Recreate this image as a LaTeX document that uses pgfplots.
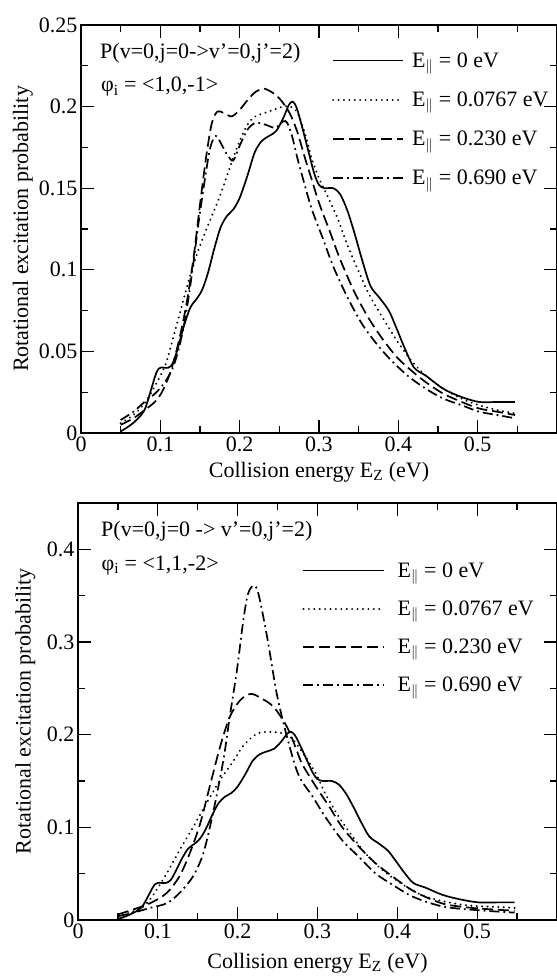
\documentclass[border=0pt]{standalone}
\usepackage{fontspec}
\setmainfont{Liberation Serif}
\usepackage{pgfplots}
\usepackage{pgfplotstable}
\pgfplotsset{compat=1.18}

\pgfplotstableread{
x y
0.050 0.001
0.060 0.004
0.070 0.008
0.080 0.014
0.088 0.026
0.095 0.037
0.100 0.040
0.110 0.040
0.116 0.043
0.122 0.052
0.130 0.066
0.138 0.077
0.147 0.083
0.153 0.088
0.160 0.098
0.168 0.113
0.176 0.126
0.184 0.133
0.192 0.137
0.200 0.144
0.210 0.158
0.219 0.172
0.228 0.179
0.237 0.182
0.246 0.185
0.255 0.193
0.262 0.201
0.267 0.203
0.272 0.199
0.279 0.187
0.287 0.172
0.294 0.159
0.300 0.152
0.307 0.150
0.318 0.150
0.327 0.146
0.336 0.136
0.345 0.122
0.355 0.105
0.365 0.090
0.376 0.083
0.388 0.075
0.397 0.065
0.408 0.052
0.420 0.040
0.435 0.035
0.457 0.027
0.480 0.022
0.502 0.019
0.525 0.019
0.547 0.019
}\solidcurve

\tikzset{
  cSolid/.style={black, line width=1.7bp},
  cDot/.style={black, line width=2.2bp, line cap=round, dash pattern=on 0.01bp off 5.4bp},
  cDash/.style={black, line width=1.7bp, dash pattern=on 11bp off 5bp},
  cDashDot/.style={black, line width=1.7bp, dash pattern=on 10bp off 4bp on 1.8bp off 4bp},
}

\pgfplotsset{
  myaxis/.style={
    scale only axis,
    anchor=south west,
    xmin=0, xmax=0.6,
    xtick={0,0.1,0.2,0.3,0.4,0.5},
    xticklabels={0,0.1,0.2,0.3,0.4,0.5},
    minor xtick={0.05,0.15,0.25,0.35,0.45,0.55},
    tick align=inside,
    major tick length=13bp,
    minor tick length=7bp,
    tick style={black, line width=1.3bp},
    axis line style={line width=1.8bp},
    /pgf/number format/assume math mode=true,
    font=\fontsize{22bp}{25bp}\selectfont,
    tick label style={font=\fontsize{22bp}{25bp}\selectfont},
    label style={font=\fontsize{22bp}{25bp}\selectfont},
    xlabel={Collision energy E\textsubscript{Z} (eV)},
    ylabel={Rotational excitation probability},
    legend cell align=left,
    clip=false,
  }
}

\begin{document}
\begin{tikzpicture}[font=\fontsize{22bp}{25bp}\selectfont]
\path[use as bounding box] (0bp,0bp) rectangle (557bp,979bp);

% ---------- top panel ----------
\begin{axis}[myaxis,
  at={(81bp,546bp)}, width=476bp, height=408bp,
  ymin=0, ymax=0.25,
  ytick={0,0.05,0.1,0.15,0.2,0.25},
  yticklabels={0,0.05,0.1,0.15,0.2,0.25},
  minor ytick={0.025,0.075,0.125,0.175,0.225},
  xlabel style={at={(axis description cs:0.5,-0.096)}, anchor=center},
  ylabel style={at={(axis description cs:-0.122,0.5)}, anchor=center},
  legend image code/.code={\draw[#1] (0bp,0bp) -- (70bp,0bp);},
  legend style={draw=none, fill=none, at={(axis description cs:0.527,0.933)}, anchor=north west,
    inner sep=0pt, row sep=23bp, column sep=8bp, nodes={inner sep=0pt},
    font=\fontsize{22bp}{25bp}\selectfont},
]
\addplot[cSolid, smooth] table[x=x,y=y] {\solidcurve};
\addlegendentry{E$_{\|}$ = 0 eV}
\addplot[cDot, smooth] coordinates {
(0.050,0.006) (0.066,0.011) (0.080,0.018) (0.090,0.026) (0.100,0.035) (0.108,0.044)
(0.116,0.058) (0.125,0.074) (0.135,0.092) (0.145,0.108) (0.155,0.121) (0.165,0.133)
(0.175,0.145) (0.185,0.159) (0.193,0.170) (0.201,0.180) (0.210,0.189) (0.220,0.194)
(0.237,0.197) (0.255,0.200) (0.264,0.200) (0.273,0.196) (0.282,0.184) (0.291,0.168)
(0.300,0.156) (0.309,0.147) (0.323,0.132) (0.336,0.115) (0.350,0.099) (0.363,0.085)
(0.381,0.070) (0.399,0.056) (0.417,0.044) (0.435,0.035) (0.457,0.027) (0.480,0.021)
(0.502,0.017) (0.525,0.014) (0.547,0.012)};
\addlegendentry{E$_{\|}$ = 0.0767 eV}
\addplot[cDash, smooth] coordinates {
(0.050,0.005) (0.066,0.009) (0.080,0.014) (0.093,0.019) (0.102,0.025) (0.111,0.035)
(0.118,0.046) (0.126,0.062) (0.134,0.082) (0.142,0.108) (0.150,0.140) (0.158,0.170)
(0.165,0.190) (0.172,0.197) (0.180,0.196) (0.190,0.194) (0.200,0.198) (0.210,0.204)
(0.220,0.209) (0.230,0.211) (0.240,0.209) (0.250,0.205) (0.258,0.200) (0.265,0.194)
(0.273,0.184) (0.282,0.169) (0.291,0.155) (0.300,0.141) (0.314,0.123) (0.327,0.106)
(0.345,0.086) (0.363,0.070) (0.381,0.057) (0.399,0.046) (0.417,0.038) (0.435,0.031)
(0.457,0.024) (0.480,0.019) (0.502,0.015) (0.525,0.013) (0.547,0.011)};
\addlegendentry{E$_{\|}$ = 0.230 eV}
\addplot[cDashDot, smooth] coordinates {
(0.050,0.008) (0.066,0.013) (0.080,0.019) (0.093,0.024) (0.104,0.030) (0.115,0.039)
(0.124,0.053) (0.132,0.072) (0.140,0.098) (0.148,0.128) (0.156,0.155) (0.163,0.175)
(0.170,0.182) (0.178,0.176) (0.185,0.170) (0.192,0.167) (0.200,0.176) (0.210,0.186)
(0.220,0.190) (0.232,0.189) (0.245,0.187) (0.255,0.191) (0.260,0.190) (0.266,0.182)
(0.273,0.168) (0.282,0.152) (0.291,0.137) (0.305,0.119) (0.318,0.102) (0.336,0.083)
(0.354,0.067) (0.372,0.055) (0.390,0.045) (0.412,0.035) (0.435,0.027) (0.457,0.021)
(0.480,0.017) (0.502,0.013) (0.525,0.011) (0.547,0.009)};
\addlegendentry{E$_{\|}$ = 0.690 eV}
\node[anchor=west, inner sep=0pt] at (axis description cs:0.040,0.931) {P(v=0,j=0->v’=0,j’=2)};
\node[anchor=west, inner sep=0pt] at (axis description cs:0.042,0.848) {φ\textsubscript{i} = <1,0,-1>};
\end{axis}

% ---------- bottom panel ----------
\begin{axis}[myaxis,
  at={(78bp,59bp)}, width=479bp, height=417bp,
  ymin=0, ymax=0.45,
  ytick={0,0.1,0.2,0.3,0.4},
  yticklabels={0,0.1,0.2,0.3,0.4},
  minor ytick={0.05,0.15,0.25,0.35},
  xlabel style={at={(axis description cs:0.5,-0.103)}, anchor=center},
  ylabel style={at={(axis description cs:-0.110,0.5)}, anchor=center},
  legend image code/.code={\draw[#1] (0bp,0bp) -- (81bp,0bp);},
  legend style={draw=none, fill=none, at={(axis description cs:0.468,0.858)}, anchor=north west,
    inner sep=0pt, row sep=22bp, column sep=12bp, nodes={inner sep=0pt},
    font=\fontsize{22bp}{25bp}\selectfont},
]
\addplot[cSolid, smooth] table[x=x,y=y] {\solidcurve};
\addlegendentry{E$_{\|}$ = 0 eV}
\addplot[cDot, smooth] coordinates {
(0.050,0.004) (0.065,0.008) (0.081,0.014) (0.090,0.022) (0.098,0.032) (0.111,0.050)
(0.127,0.075) (0.144,0.100) (0.161,0.126) (0.178,0.151) (0.195,0.172) (0.207,0.188)
(0.224,0.201) (0.241,0.203) (0.258,0.201) (0.270,0.194) (0.285,0.176) (0.298,0.158)
(0.310,0.136) (0.327,0.111) (0.344,0.090) (0.360,0.072) (0.381,0.054) (0.402,0.041)
(0.423,0.030) (0.444,0.023) (0.477,0.017) (0.500,0.015) (0.527,0.014) (0.547,0.013)};
\addlegendentry{E$_{\|}$ = 0.0767 eV}
\addplot[cDash, smooth] coordinates {
(0.050,0.006) (0.068,0.011) (0.090,0.018) (0.111,0.029) (0.127,0.047) (0.140,0.072)
(0.153,0.104) (0.165,0.144) (0.178,0.187) (0.190,0.219) (0.203,0.237) (0.216,0.244)
(0.228,0.240) (0.245,0.230) (0.262,0.208) (0.274,0.183) (0.281,0.168) (0.298,0.144)
(0.315,0.122) (0.331,0.100) (0.352,0.079) (0.373,0.061) (0.394,0.047) (0.415,0.034)
(0.435,0.025) (0.460,0.017) (0.494,0.013) (0.527,0.011) (0.547,0.010)};
\addlegendentry{E$_{\|}$ = 0.230 eV}
\addplot[cDashDot, smooth] coordinates {
(0.050,0.004) (0.070,0.008) (0.090,0.013) (0.111,0.018) (0.127,0.029) (0.144,0.047)
(0.157,0.072) (0.169,0.115) (0.182,0.172) (0.190,0.219) (0.199,0.269) (0.207,0.323)
(0.213,0.352) (0.220,0.361) (0.226,0.352) (0.237,0.305) (0.249,0.244) (0.262,0.197)
(0.276,0.157) (0.294,0.133) (0.310,0.111) (0.331,0.086) (0.352,0.068) (0.373,0.050)
(0.394,0.038) (0.415,0.027) (0.435,0.020) (0.460,0.014) (0.494,0.011) (0.527,0.009)
(0.547,0.008)};
\addlegendentry{E$_{\|}$ = 0.690 eV}
\node[anchor=west, inner sep=0pt] at (axis description cs:0.048,0.933) {P(v=0,j=0 -> v’=0,j’=2)};
\node[anchor=west, inner sep=0pt] at (axis description cs:0.049,0.851) {φ\textsubscript{i} = <1,1,-2>};
\end{axis}
\end{tikzpicture}
\end{document}
